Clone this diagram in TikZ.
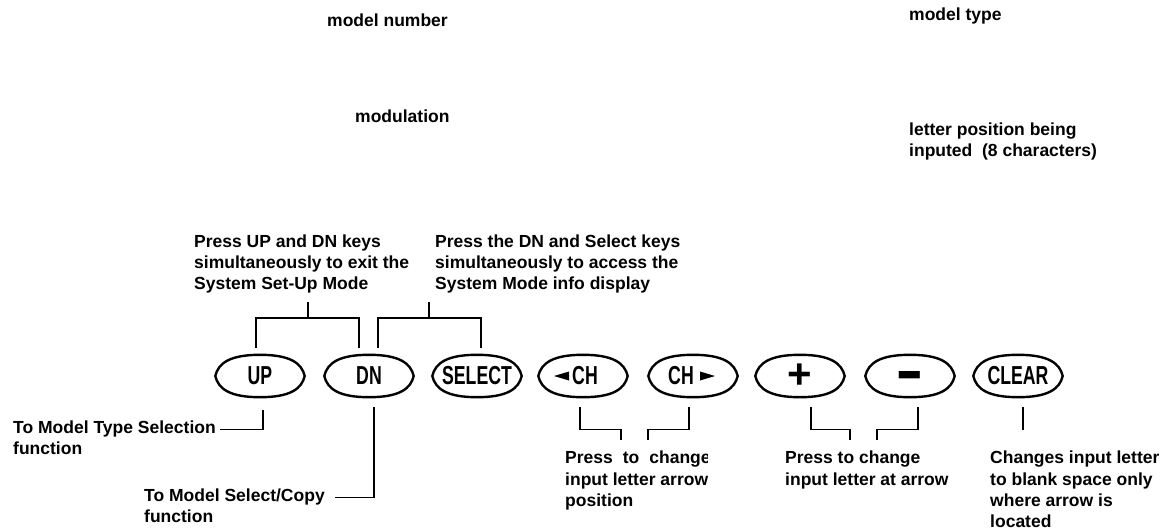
\documentclass[tikz,border=0pt]{standalone}
\usepackage{fontspec}
\setmainfont{Liberation Sans}
\newfontfamily\keyfont{Liberation Sans}[FakeStretch=0.68]
\usetikzlibrary{calc}
\begin{document}
\begin{tikzpicture}[x=1pt,y=-1pt,
  lbl/.style={anchor=north west, inner sep=0pt, align=left,
    font=\fontsize{17.5}{20.7}\selectfont\bfseries},
  lblb/.style={lbl, font=\fontsize{17.5}{21.3}\selectfont\bfseries},
  key/.style={inner sep=0pt, minimum width=89pt, minimum height=42pt,
    font=\keyfont\fontsize{26}{26}\selectfont\bfseries},
  sym/.style={key, font=\fontsize{42}{42}\selectfont\bfseries},
  wire/.style={line width=1.2pt},
  outline/.style={line width=2.4pt}]
\useasboundingbox (0,0) rectangle (1164,530);

% top labels
\node[lbl] (mnum) at (327,14) {model number};
\node[lbl] (mtype) at (909,8) {model type};
\node[lbl] (modu) at (355,110) {modulation};
\node[lbl] (lpos) at (909,123) {letter position being\\inputed\ \ (8 characters)};

% keys
\node[key] (up) at (260,376) {UP};
\node[key] (dn) at (369,376) {DN};
\node[key] (sel) at (477,376) {SELECT};
\node[key] (lch) at (583,376) {\hspace*{4pt}CH};
\node[key] (rch) at (693,376) {CH\hspace*{24pt}};
\node[sym] (plus) at (800,376) {\raisebox{-3pt}{+}};
\node[sym] (minus) at (910,376) {\raisebox{-21pt}[0pt][0pt]{\scalebox{1}[1.6]{−}}};
\node[key] (clr) at (1018,376) {CLEAR};

\foreach \n in {up,dn,sel,lch,rch,plus,minus,clr}{
  \draw[outline] (\n.west) .. controls +(3,-13) and +(-30,0) .. (\n.north)
    .. controls +(30,0) and +(-3,-13) .. (\n.east)
    .. controls +(-3,13) and +(30,0) .. (\n.south)
    .. controls +(-30,0) and +(3,13) .. (\n.west) -- cycle;
}
\fill ($(lch.center)+(-29,0)$) -- ++(15,-4.5) -- ++(0,9) -- cycle;
\fill ($(rch.center)+(22,0)$) -- ++(-15,-4.5) -- ++(0,9) -- cycle;

% upper annotations
\node[lbl] (tud) at (194,235) {Press UP and DN keys\\simultaneously to exit the\\System Set-Up Mode};
\node[lbl] (tds) at (435,235) {Press the DN and Select keys\\simultaneously to access the\\System Mode info display};
\coordinate (s1) at (308,318);
\coordinate (s2) at (429,318);
\draw[wire] ($(up.north)+(-4,-7)$) |- (s1) -| ($(dn.north)+(-10,-7)$);
\draw[wire] (s1) -- ++(0,-16);
\draw[wire] ($(dn.north)+(9,-7)$) |- (s2) -| ($(sel.north)+(4,-7)$);
\draw[wire] (s2) -- ++(0,-16);

% lower annotations
\node[lbl] (tmt) at (13,421) {To Model Type Selection\\function};
\node[lbl] (tms) at (144,489) {To Model Select/Copy\\function};
\draw[wire] ($(up.south)+(3,13)$) -- ++(0,19) -- ++(-43,0);
\draw[wire] ($(dn.south)+(5,10)$) -- ++(0,90) -- ++(-39,0);

\begin{scope}
\clip (560,440) rectangle (707,520);
\node[lblb] (tch) at (565,451) {Press\hspace{10pt}to\hspace{10pt}change\\input letter arrow\\position};
\end{scope}
\draw[wire] ($(lch.south)+(-3,10)$) -- ++(0,22) -- ++(41,0) -- ++(0,11);
\draw[wire] ($(rch.south)+(-4,10)$) -- ++(0,22) -- ++(-41,0) -- ++(0,11);

\node[lblb] (tpm) at (785,451) {Press to change\\input letter at arrow};
\draw[wire] ($(plus.south)+(11,10)$) -- ++(0,22) -- ++(39,0) -- ++(0,11);
\draw[wire] ($(minus.south)+(8,10)$) -- ++(0,22) -- ++(-41,0) -- ++(0,11);

\node[lblb] (tcl) at (990,451) {Changes input letter\\to blank space only\\where arrow is\\located};
\draw[wire] ($(clr.south)+(5,10)$) -- ++(0,23);
\end{tikzpicture}
\end{document}
